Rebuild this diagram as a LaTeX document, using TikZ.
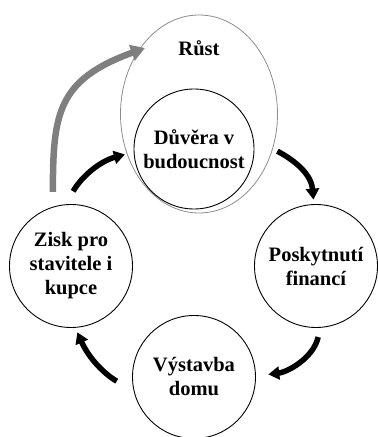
\documentclass[tikz,border=0pt]{standalone}
\usepackage{fontspec}
\setmainfont{Liberation Serif}
\usetikzlibrary{arrows.meta,shapes.geometric}
\definecolor{arrowgray}{HTML}{7F7F7F}
\definecolor{ringgray}{HTML}{8C8C8C}
\begin{document}
\begin{tikzpicture}[x=1pt,y=1pt,
  labeltext/.style={font=\fontsize{20.5}{24}\selectfont\bfseries,align=center},
  stage/.style={circle,draw=black,line width=0.9pt,minimum size=123pt,inner sep=0pt,labeltext},
  cyc/.style={line width=5.5pt,-{Triangle[width=13pt,length=11pt]}},
  growth/.style={line width=6.5pt,draw=arrowgray,-{Triangle[width=16pt,length=14pt]},arrowgray}]
\useasboundingbox (0,0) rectangle (378,437);

% outer "growth" ellipse and its caption
\node[ellipse,draw=ringgray,line width=0.8pt,minimum width=157pt,minimum height=198pt,inner sep=0pt] (rust) at (199,323) {};
\node[labeltext] (rusttext) at (199,389) {Růst};

% the four stages of the cycle
\node[stage,minimum size=120pt] (duvera) at (194,288) {Důvěra v\\budoucnost};
\node[stage] (posk) at (316,171) {Poskytnutí\\financí};
\node[stage] (vyst) at (194,60) {Výstavba\\domu};
\node[stage] (zisk) at (71,171) {Zisk pro\\stavitele i\\kupce};

% cycle arrows
\draw[cyc,shorten <=15pt,shorten >=9pt] (zisk.95) to[out=60,in=195] (duvera.183);
\draw[cyc,shorten <=27pt,shorten >=4.5pt] (duvera.10) to[out=-28,in=95] (posk.92);
\draw[cyc,shorten <=9.5pt,shorten >=12.5pt] (posk.274) to[out=257,in=7] (vyst.1);
\draw[cyc,shorten <=19.5pt,shorten >=5pt] (vyst.193) to[out=150,in=294] (zisk.274);

% arrow from profit up into growth
\coordinate (growthtip) at (145,389);
\draw[growth,shorten <=15pt] (zisk.107) to[out=90,in=200,looseness=1.3] (growthtip);
\end{tikzpicture}
\end{document}
